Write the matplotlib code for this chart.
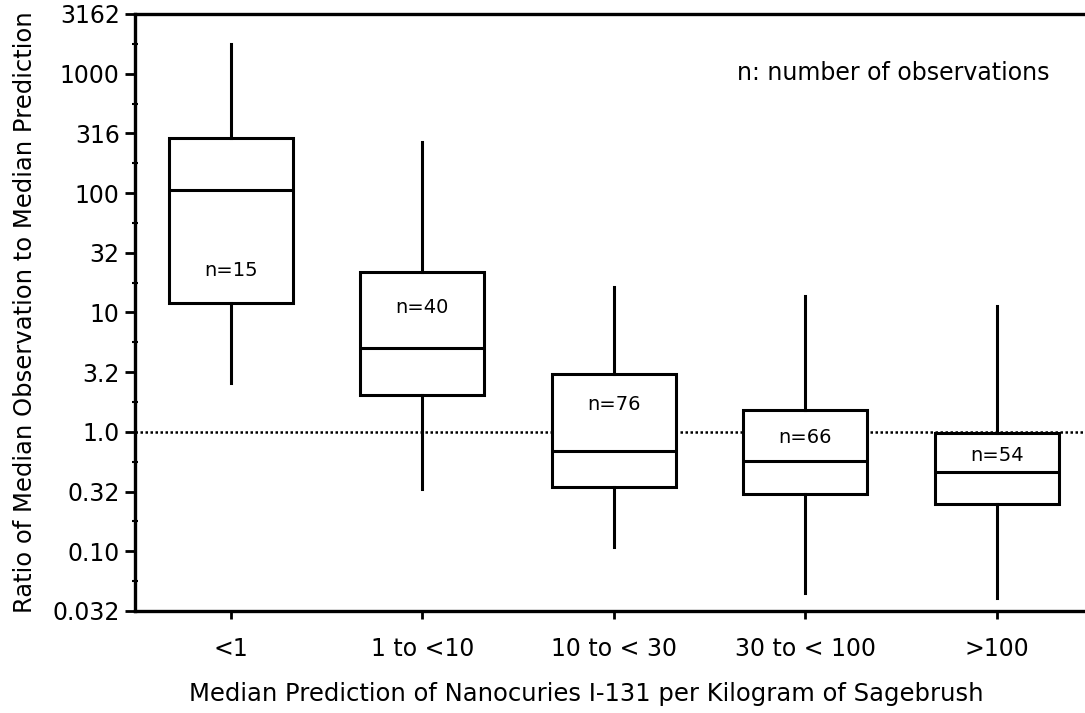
import numpy as np
import matplotlib
matplotlib.use("Agg")
import matplotlib.pyplot as plt
from matplotlib.ticker import FixedLocator, NullFormatter

plt.rcParams['font.family'] = ['DejaVu Sans']

# Size classes of the median predicted I-131 concentration in sagebrush
categories = ["<1", "1 to <10", "10 to < 30", "30 to < 100", ">100"]
counts = [15, 40, 76, 66, 54]

# Ratio of median observation to median prediction, per class
whisker_low = [2.57, 0.33, 0.109, 0.045, 0.041]
q1 = [12.0, 2.04, 0.347, 0.30, 0.25]
medians = [107.0, 5.0, 0.69, 0.57, 0.46]
q3 = [290.0, 21.8, 3.05, 1.53, 0.98]
whisker_high = [1780.0, 270.0, 16.5, 13.7, 11.3]

# Vertical placement of the "n=" annotations (in data units)
n_label_y = [22.5, 11.1, 1.71, 0.89, 0.64]

# Half-decade tick marks from 10^-1.5 to 10^3.5
y_tick_exponents = [-1.5, -1.0, -0.5, 0.0, 0.5, 1.0, 1.5, 2.0, 2.5, 3.0, 3.5]
y_tick_labels = ["0.032", "0.10", "0.32", "1.0", "3.2", "10", "32", "100", "316", "1000", "3162"]

fig = plt.figure(figsize=(10.85, 7.13), dpi=100)
ax = fig.add_axes([135 / 1085, 1 - 611 / 713, 1 - 135 / 1085, (611 - 14) / 713])

positions = np.arange(1, len(categories) + 1)
stats = []
for i in range(len(categories)):
    stats.append(dict(whislo=whisker_low[i], q1=q1[i], med=medians[i],
                      q3=q3[i], whishi=whisker_high[i], fliers=[]))

line_kw = dict(color="black", linewidth=2.2)
ax.bxp(stats, positions=positions, widths=0.65, patch_artist=True,
       showcaps=False, showfliers=False,
       boxprops=dict(facecolor="white", edgecolor="black", linewidth=2.2),
       medianprops=line_kw, whiskerprops=line_kw, zorder=3)

# Reference line where observation equals prediction
ax.axhline(1.0, color="black", linestyle=(0, (1, 1)), linewidth=1.8, zorder=1)

for x, yv, n in zip(positions, n_label_y, counts):
    ax.text(x, yv, f"n={n}", ha="center", va="center", fontsize=14, zorder=4)

ax.text(0.963, 0.901, "n: number of observations", transform=ax.transAxes,
        ha="right", va="center", fontsize=17)

ax.set_yscale("log")
ax.set_ylim(10 ** -1.5, 10 ** 3.5)
ax.set_xlim(0.5, 0.5 + (1085 - 135) / 191.5)

ax.yaxis.set_major_locator(FixedLocator([10 ** e for e in y_tick_exponents]))
ax.set_yticklabels(y_tick_labels)
ax.yaxis.set_minor_locator(FixedLocator([10 ** (e + 0.25) for e in y_tick_exponents[:-1]]))
ax.yaxis.set_minor_formatter(NullFormatter())

ax.set_xticks(positions)
ax.set_xticklabels(categories)

ax.tick_params(axis="y", which="major", direction="out", length=7, width=2,
               labelsize=17, pad=4)
ax.tick_params(axis="y", which="minor", direction="inout", length=5, width=1.5)
ax.tick_params(axis="x", which="major", direction="out", length=6, width=2,
               labelsize=17, pad=13)

for side in ("left", "bottom", "top"):
    ax.spines[side].set_linewidth(2.4)
ax.spines["right"].set_visible(False)

ax.set_xlabel("Median Prediction of Nanocuries I-131 per Kilogram of Sagebrush",
              fontsize=17.5, labelpad=15)
ax.xaxis.label.set_x((586 - 135) / 950)
ax.set_ylabel("Ratio of Median Observation to Median Prediction", fontsize=17.5,
              labelpad=11)

fig.savefig("out.png", dpi=100)
